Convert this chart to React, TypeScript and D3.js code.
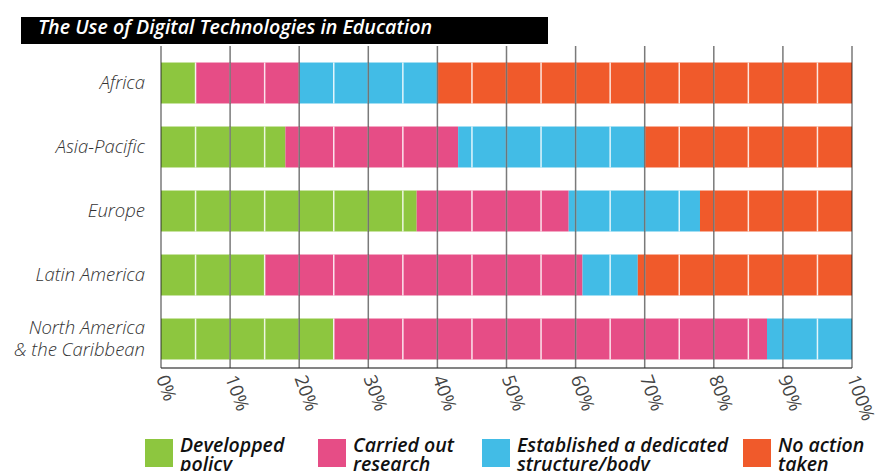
import React, { useEffect, useRef } from "react";
import * as d3 from "d3";

const regions = ["Africa", "Asia-Pacific", "Europe", "Latin America", "North America\n& the Caribbean"];
const policy = [5, 18, 37, 15, 25];
const research = [15, 25, 22, 46, 62.7];
const structure = [20, 27, 19, 8, 12.3];
const noAction = [60, 30, 22, 31, 0];
const seriesNames = ["Developped\npolicy", "Carried out\nresearch", "Established a dedicated\nstructure/body", "No action\ntaken"];
const colors = ["#8DC63F", "#E64D86", "#42BCE6", "#F05A2B"];
const ticks = [0, 10, 20, 30, 40, 50, 60, 70, 80, 90, 100];

const W = 876;
const H = 471;

const App = () => {
  const ref = useRef<SVGSVGElement>(null);

  useEffect(() => {
    const svg = d3.select(ref.current);
    svg.selectAll("*").remove();

    const x = d3.scaleLinear().domain([0, 100]).range([161, 852]);
    const y = d3.scaleBand().domain(regions).range([51, 371]).paddingInner(0.36).paddingOuter(0.18);

    // title box
    svg.append("rect").attr("x", 21).attr("y", 17).attr("width", 527).attr("height", 27).attr("fill", "#000");
    svg.append("text")
      .attr("x", 38).attr("y", 34)
      .attr("fill", "#fff")
      .attr("textLength", 394).attr("lengthAdjust", "spacingAndGlyphs")
      .style("font-family", "'Open Sans', sans-serif")
      .style("font-style", "italic").style("font-weight", 600).style("font-size", "19px")
      .text("The Use of Digital Technologies in Education");

    // stacked bars
    const rows = regions.map((r, i) => ({ region: r, values: [policy[i], research[i], structure[i], noAction[i]] }));
    rows.forEach((row) => {
      let acc = 0;
      row.values.forEach((v, k) => {
        svg.append("rect")
          .attr("x", x(acc)).attr("y", y(row.region)!)
          .attr("width", x(acc + v) - x(acc)).attr("height", y.bandwidth())
          .attr("fill", colors[k]);
        acc += v;
      });
      // white dividers at 5% steps inside the bar
      d3.range(5, 100, 5).forEach((t) => {
        svg.append("line")
          .attr("x1", x(t)).attr("x2", x(t))
          .attr("y1", y(row.region)!).attr("y2", y(row.region)! + y.bandwidth())
          .attr("stroke", "#fff").attr("stroke-width", 1.5).attr("opacity", 0.85);
      });
    });

    // grid lines at 10%
    svg.append("g").selectAll("line").data(ticks).enter().append("line")
      .attr("x1", (d) => x(d)).attr("x2", (d) => x(d))
      .attr("y1", 46).attr("y2", 368)
      .attr("stroke", "#222").attr("stroke-width", 1.5).attr("opacity", 0.6);

    // axis baseline
    svg.append("line").attr("x1", x(0)).attr("x2", x(100)).attr("y1", 368).attr("y2", 368)
      .attr("stroke", "#333").attr("stroke-width", 1.5).attr("opacity", 0.8);

    // x tick labels, rotated
    svg.append("g").selectAll("text").data(ticks).enter().append("text")
      .attr("transform", (d) => `translate(${x(d) - 5},${378}) rotate(70)`)
      .attr("fill", "#444")
      .style("font-family", "'Open Sans', sans-serif")
      .style("font-weight", 400).style("font-size", "18.5px")
      .text((d) => `${d}%`);

    // y labels
    regions.forEach((r) => {
      const lines = r.split("\n");
      const cy = y(r)! + y.bandwidth() / 2;
      const t = svg.append("text")
        .attr("text-anchor", "end")
        .attr("fill", "#333")
        .style("font-family", "'Open Sans', sans-serif")
        .style("font-style", "italic").style("font-weight", 300).style("font-size", "18.5px");
      lines.forEach((l, j) => {
        t.append("tspan").attr("x", 145)
          .attr("y", cy + 6 + (j - (lines.length - 1) / 2) * 21.5)
          .text(l);
      });
    });

    // legend
    const legX = [145, 318, 482, 743];
    seriesNames.forEach((name, k) => {
      svg.append("rect").attr("x", legX[k]).attr("y", 439).attr("width", 28).attr("height", 28).attr("fill", colors[k]);
      const t = svg.append("text")
        .attr("fill", "#111")
        .style("font-family", "'Open Sans', sans-serif")
        .style("font-style", "italic").style("font-weight", 600).style("font-size", "19.5px");
      name.split("\n").forEach((l, j) => {
        t.append("tspan").attr("x", legX[k] + 35).attr("y", 452 + j * 18.5).text(l);
      });
    });
  }, []);

  return (
    <svg ref={ref} width={W} height={H} style={{ position: "absolute", left: 0, top: 0, background: "#fff" }} />
  );
};

export default App;
